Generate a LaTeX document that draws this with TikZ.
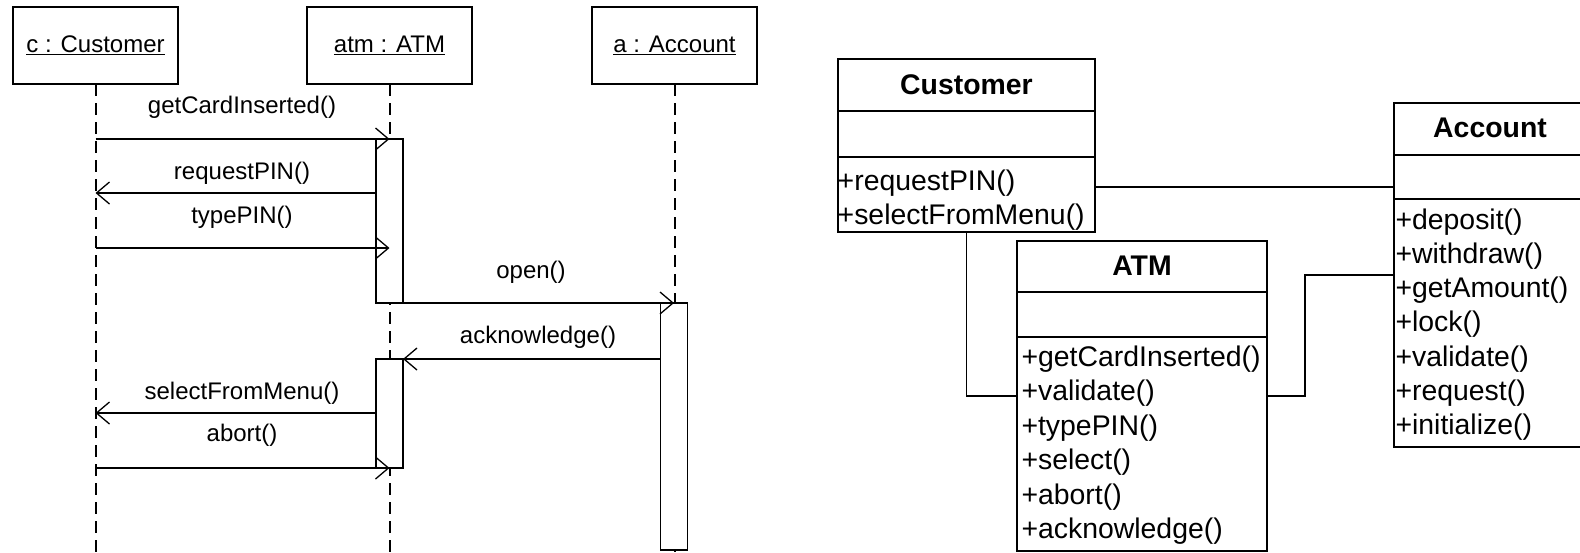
\documentclass[tikz,border=0pt]{standalone}
\usepackage{fontspec}
\setmainfont{Liberation Sans}
\usetikzlibrary{arrows.meta}
\newcommand\seqsize{\fontsize{24}{28}\selectfont}
\newcommand\clssize{\fontsize{28.4}{34}\selectfont}

\begin{document}
\begin{tikzpicture}[x=1pt,y=-1pt,
  obj/.style={draw, line width=1.4pt, minimum width=165pt, minimum height=77pt,
    inner sep=0pt, outer sep=0pt, font=\seqsize},
  life/.style={line width=2pt, dash pattern=on 12pt off 7pt},
  actbox/.style={draw, fill=white, line width=1.3pt, minimum width=27pt,
    inner sep=0pt, outer sep=0pt},
  msg/.style={line width=1.3pt, -{Straight Barb[length=13pt,width=22pt]}},
  msglabel/.style={font=\seqsize, inner sep=0pt},
  cls/.style={draw, line width=2.3pt, inner sep=0pt, outer sep=0pt, anchor=north west},
  clsline/.style={line width=2.3pt},
  clstitle/.style={font=\clssize\bfseries, inner sep=0pt},
  member/.style={font=\clssize, inner sep=0pt, anchor=west},
  assoc/.style={line width=1.5pt},
]
\clip (0,0) rectangle (1580,552);

% ---------- sequence diagram ----------
\coordinate (bottom) at (0,552);
\node[obj] (cust) at (95.5,45.5) {\underline{c : Customer}};
\node[obj] (atm)  at (389.5,45.5) {\underline{atm : ATM}};
\node[obj] (acc)  at (674.5,45.5) {\underline{a : Account}};

\draw[life] (cust.south) -- (cust.south |- bottom);
\draw[life] (atm.south) -- (atm.south |- bottom);
\draw[life] (acc.south) -- (acc.south |- bottom);

\node[actbox, minimum height=164pt] (act1) at (389.5,221) {};
\node[actbox, minimum height=109pt] (act2) at (389.5,413.5) {};
\node[actbox, minimum height=247pt] (actA) at (674,426.5) {};

\coordinate (y2) at (0,193);
\coordinate (y3) at (0,248);
\coordinate (y6) at (0,413);

\draw[msg] (cust.south |- act1.north) -- (act1.north);
\draw[msg] (act1.west |- y2) -- (cust.south |- y2);
\draw[msg] (cust.south |- y3) -- (act1.center |- y3);
\draw[msg] (act1.south east) -- (actA.north);
\draw[msg] (actA.west |- act2.north) -- (act2.north east);
\draw[msg] (act2.west |- y6) -- (cust.south |- y6);
\draw[msg] (cust.south |- act2.south) -- (act2.south);

\node[msglabel] (l1) at (242,107) {getCardInserted()};
\node[msglabel] (l2) at (242,173) {requestPIN()};
\node[msglabel] (l3) at (242,217) {typePIN()};
\node[msglabel] (l4) at (531,272) {open()};
\node[msglabel] (l5) at (538,337) {acknowledge()};
\node[msglabel] (l6) at (242,393) {selectFromMenu()};
\node[msglabel] (l7) at (242,435) {abort()};

% ---------- class diagram ----------
\node[cls, minimum width=257pt, minimum height=173pt] (Ccls) at (838,59) {};
\node[cls, minimum width=250pt, minimum height=310pt] (Tcls) at (1017,241) {};
\node[cls, minimum width=192pt, minimum height=344pt] (Acls) at (1394,103) {};

\foreach \b/\h/\a in {Ccls/52/98, Tcls/51/96, Acls/52/96} {
  \draw[clsline] ([yshift=-\h pt]\b.north west) -- ([yshift=-\h pt]\b.north east);
  \draw[clsline] ([yshift=-\a pt]\b.north west) -- ([yshift=-\a pt]\b.north east);
}

\node[clstitle] (Ctitle) at (966.5,85) {Customer};
\node[clstitle] (Ttitle) at (1142,265.5) {ATM};
\node[clstitle] (Atitle) at (1490,127.5) {Account};

\foreach \t [count=\i] in {+requestPIN(), +selectFromMenu()}
  \node[member] (Cm\i) at (837.5,{183+34*(\i-1)}) {\t};
\foreach \t [count=\i] in {+getCardInserted(), +validate(), +typePIN(), +select(), +abort(), +acknowledge()}
  \node[member] (Tm\i) at (1021.3,{359+34.5*(\i-1)}) {\t};
\foreach \t [count=\i] in {+deposit(), +withdraw(), +getAmount(), +lock(), +validate(), +request(), +initialize()}
  \node[member] (Am\i) at (1395.3,{222+34.2*(\i-1)}) {\t};

\coordinate (caY) at (0,187);
\draw[assoc] (Ccls.east |- caY) -- (Acls.west |- caY);
\draw[assoc] (Ccls.south) |- (Tcls.west);
\draw[assoc] (Tcls.east) -- ++(38,0) |- (Acls.west);
\end{tikzpicture}
\end{document}
